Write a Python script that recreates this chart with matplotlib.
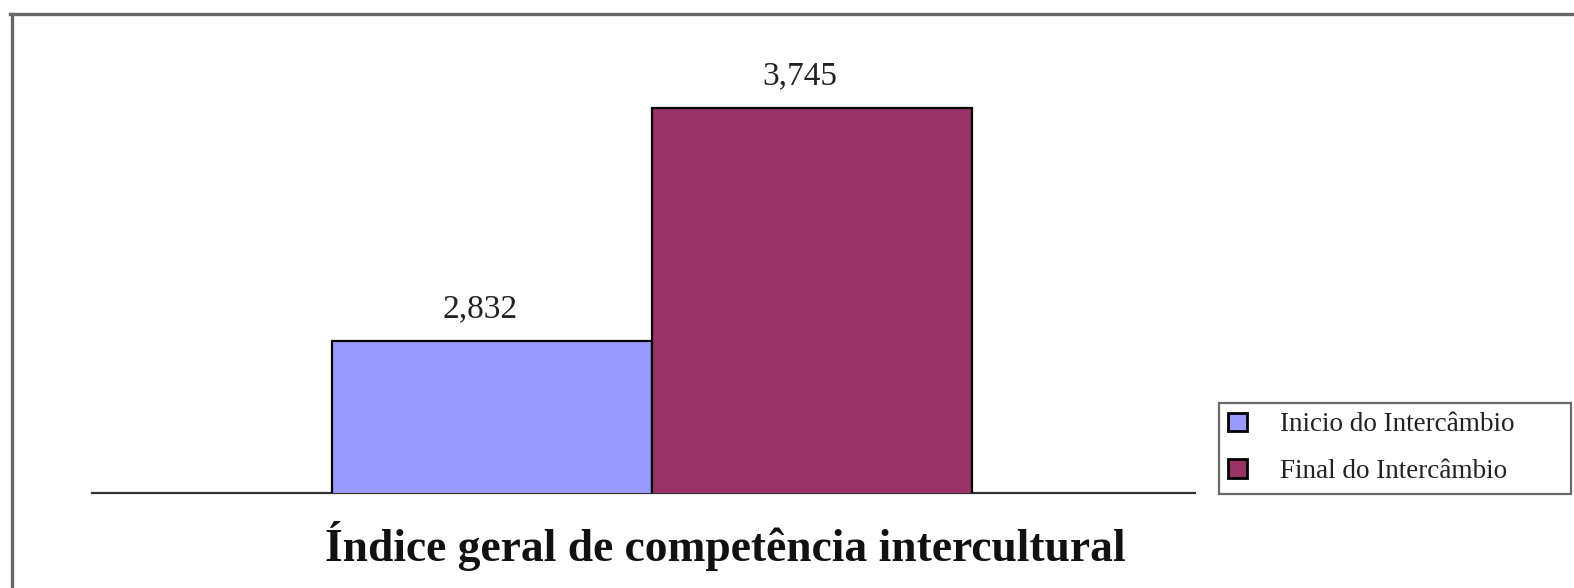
import matplotlib.pyplot as plt
from matplotlib.lines import Line2D
from matplotlib.patches import Patch

# dados do grafico
categorias = ["Inicio do Intercâmbio", "Final do Intercâmbio"]
valores = [2.832, 3.745]
rotulos = ["2,832", "3,745"]
cores = ["#9999FF", "#993366"]
titulo = "Índice geral de competência intercultural"

plt.rcParams['font.family'] = ['Liberation Serif', 'DejaVu Serif']

fig = plt.figure(figsize=(15.74, 5.88), dpi=100)
fig.patch.set_facecolor("white")

# eixo principal: vai de 92 px ate 1195 px, base em 493 px
ax = fig.add_axes([92 / 1574, 95 / 588, 1103 / 1574, 463 / 588])

posicoes = [0, 1]
ax.bar(posicoes, valores, width=1.0, color=cores, edgecolor="black", linewidth=1.6, zorder=3)

ax.set_xlim(-1.252, 2.197)
ax.set_ylim(2.236, 4.051)

for x, v, r in zip(posicoes, valores, rotulos):
    ax.annotate(r, xy=(x, v), xytext=(-9, 17), textcoords="offset points",
                ha="center", va="baseline", fontsize=24, color="#222222")

for lado in ["top", "right", "left"]:
    ax.spines[lado].set_visible(False)
ax.spines["bottom"].set_color("#333333")
ax.spines["bottom"].set_linewidth(1.6)
ax.set_xticks([])
ax.set_yticks([])

# titulo abaixo do eixo
fig.text(725 / 1574, 1 - 546 / 588, titulo, ha="center", va="center",
         fontsize=32.8, fontweight="bold", color="#111111")

# legenda a direita, caixa esticada ate a borda
handles = [Patch(facecolor=c, edgecolor="black", linewidth=2.0) for c in cores]
leg = fig.legend(handles, categorias, loc="upper left",
                 bbox_to_anchor=(1219 / 1574, 1 - 491 / 588, 352 / 1574, 88 / 588),
                 mode="expand",
                 fontsize=19.5, frameon=True, fancybox=False,
                 handlelength=0.7, handleheight=0.7, handletextpad=1.2,
                 labelspacing=0.8, borderpad=0.35, borderaxespad=0)
leg.get_frame().set_edgecolor("#444444")
leg.get_frame().set_linewidth(1.6)
for t in leg.get_texts():
    t.set_color("#222222")

# moldura cinza (topo e lado esquerdo)
fig.add_artist(Line2D([10 / 1574, 1.0], [1 - 14 / 588, 1 - 14 / 588],
                      transform=fig.transFigure, color="#666666", linewidth=2.4))
fig.add_artist(Line2D([12 / 1574, 12 / 1574], [0, 1 - 14 / 588],
                      transform=fig.transFigure, color="#666666", linewidth=2.4))

fig.savefig("out.png", dpi=100, facecolor="white")
